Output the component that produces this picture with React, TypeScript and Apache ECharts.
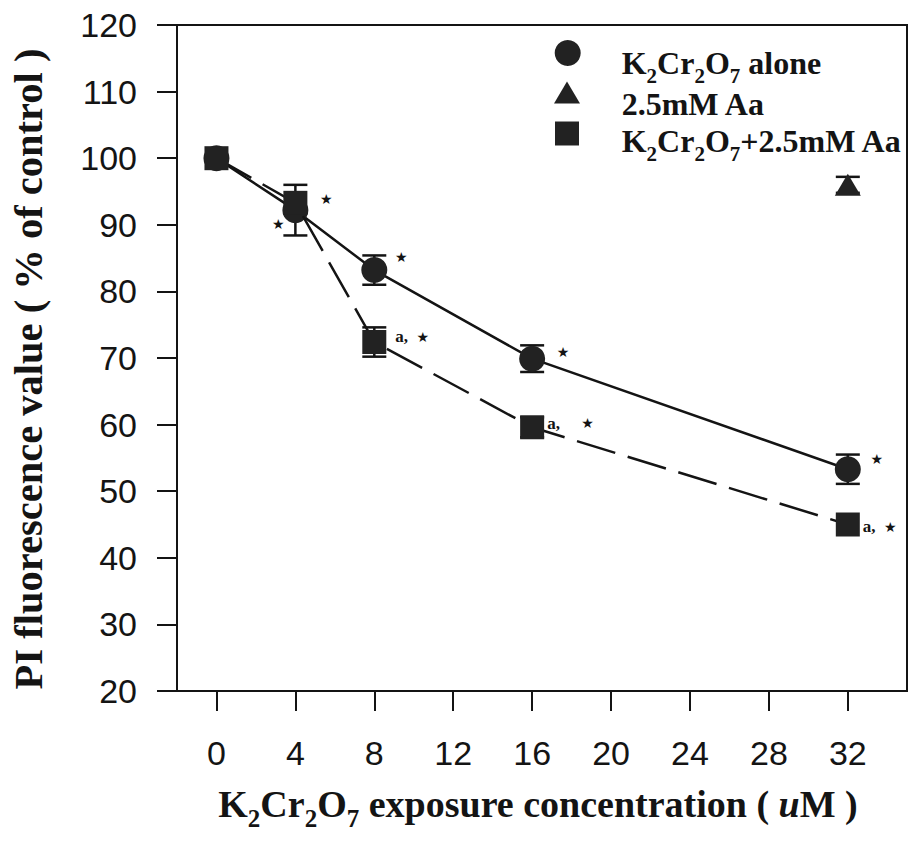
import React, { useEffect, useRef } from 'react';
import * as echarts from 'echarts';

// ---- data ----
const xTickValues = [0, 4, 8, 12, 16, 20, 24, 28, 32];
const yMin = 20;
const yMax = 120;
const yStep = 10;

const concentrations = [0, 4, 8, 16, 32];
const aloneValues = [100, 92.2, 83.2, 69.9, 53.3];
const aloneErrors = [0, 3.8, 2.2, 2.0, 2.2];
const aloneMarks = ['', '*', '*', '*', '*'];

const comboValues = [100, 93.3, 72.4, 59.6, 45.0];
const comboErrors = [0, 0, 2.2, 1.5, 0];
const comboMarks = ['', '*', 'a,*', 'a,*', 'a,*'];

const aaConc = [32];
const aaValues = [96];
const aaErrors = [1.2];

// ---- layout (not data) ----
const aloneLabelOffsets = [[0, 0], [-17, 14], [27, -13], [31, -7], [29, -10]];
const comboLabelPos = ['inside', 'inside', 'right', 'right', 'right'];
const comboLabelOffsets = [[0, 0], [31, -4], [9, -5.5], [3, -4], [3, 2]];
const comboGaps = ['', '', '  ', '     ', '  '];

const ink = '#141414';
const fillInk = '#222222';
const serif = '"Liberation Serif", "Times New Roman", serif';
const sans = '"Liberation Sans", Arial, sans-serif';

const legendNames: Record<string, string> = {
  alone: '{n|K}{s|2}{n|Cr}{s|2}{n|O}{s|7}{n| alone}',
  aa: '{m|2.5mM Aa}',
  combo: '{n|K}{s|2}{n|Cr}{s|2}{n|O}{s|7}{n|+2.5mM Aa}',
};

const legendRich = {
  n: { fontSize: 32, fontWeight: 'bold', fontFamily: serif, lineHeight: 47, color: ink },
  m: { fontSize: 32, fontWeight: 'bold', fontFamily: serif, lineHeight: 30, color: ink },
  s: { fontSize: 21, fontWeight: 'bold', fontFamily: serif, verticalAlign: 'bottom', color: ink },
};

const markRich = {
  a: { fontSize: 17, fontWeight: 'bold', fontFamily: serif, color: ink, lineHeight: 18 },
  s: { fontSize: 14, fontFamily: '"DejaVu Sans", sans-serif', color: ink, lineHeight: 18 },
};

function markText(m: string, gap: string) {
  if (m === '*') return '{s|★}';
  if (m === 'a,*') return '{a|a,' + gap + '}{s|★}';
  return '';
}

function errorSeries(name: string, xs: number[], ys: number[], es: number[]) {
  return {
    type: 'custom',
    name,
    z: 1,
    silent: true,
    encode: { x: 0, y: 1 },
    data: xs.map((x, i) => [x, ys[i], es[i]]).filter((d) => d[2] > 0),
    renderItem: (params: any, api: any) => {
      const x = api.value(0);
      const y = api.value(1);
      const e = api.value(2);
      const top = api.coord([x, y + e]);
      const bot = api.coord([x, y - e]);
      const hw = 12;
      const st = { stroke: ink, lineWidth: 2.5 };
      return {
        type: 'group',
        children: [
          { type: 'line', shape: { x1: top[0], y1: top[1], x2: bot[0], y2: bot[1] }, style: st },
          { type: 'line', shape: { x1: top[0] - hw, y1: top[1], x2: top[0] + hw, y2: top[1] }, style: st },
          { type: 'line', shape: { x1: bot[0] - hw, y1: bot[1], x2: bot[0] + hw, y2: bot[1] }, style: st },
        ],
      };
    },
  };
}

function makeLegend(name: string, icon: string, left: number, top: number, w: number, h: number, pad: number[]) {
  return {
    data: [{ name, icon }],
    orient: 'vertical',
    left,
    top,
    padding: 0,
    itemWidth: w,
    itemHeight: h,
    selectedMode: false,
    formatter: (n: string) => legendNames[n],
    itemStyle: { color: fillInk, borderWidth: 0, opacity: 1 },
    textStyle: { rich: legendRich, padding: pad, color: ink },
  };
}

export default function App() {
  const ref = useRef<HTMLDivElement>(null);

  useEffect(() => {
    if (!ref.current) return;
    const chart = echarts.init(ref.current, undefined, { renderer: 'svg' });

    const aloneData = concentrations.map((x, i) => ({
      value: [x, aloneValues[i]],
      label: aloneMarks[i]
        ? { show: true, position: 'inside', formatter: markText(aloneMarks[i], ''), offset: aloneLabelOffsets[i] }
        : { show: false },
    }));
    const comboData = concentrations.map((x, i) => ({
      value: [x, comboValues[i]],
      label: comboMarks[i]
        ? {
            show: true,
            position: comboLabelPos[i],
            distance: 0,
            formatter: markText(comboMarks[i], comboGaps[i]),
            offset: comboLabelOffsets[i],
          }
        : { show: false },
    }));

    const option: any = {
      animation: false,
      backgroundColor: '#ffffff',
      grid: {
        left: 177,
        right: 4,
        top: 25,
        bottom: 154,
        show: true,
        borderColor: ink,
        borderWidth: 2,
        backgroundColor: 'transparent',
      },
      xAxis: {
        type: 'value',
        min: -2,
        max: 35,
        axisLine: { show: true, onZero: false, lineStyle: { color: ink, width: 2 } },
        axisTick: { show: true, inside: false, length: 20, lineStyle: { color: ink, width: 2 }, customValues: xTickValues },
        axisLabel: { customValues: xTickValues, margin: 45, fontSize: 34, fontFamily: sans, color: ink },
        splitLine: { show: false },
      },
      yAxis: {
        type: 'value',
        min: yMin,
        max: yMax,
        interval: yStep,
        axisLine: { show: true, onZero: false, lineStyle: { color: ink, width: 2 } },
        axisTick: { show: true, inside: false, length: 20, lineStyle: { color: ink, width: 2 } },
        axisLabel: { margin: 40, fontSize: 34, fontFamily: sans, color: ink },
        splitLine: { show: false },
      },
      legend: [
        makeLegend('alone', 'circle', 554.7, 40, 26, 26, [19.4, 0, 0, 36]),
        makeLegend('aa', 'triangle', 554, 81.4, 26, 22, [23.2, 0, 0, 36.7]),
        makeLegend('combo', 'rect', 555, 121.5, 24, 24, [14, 0, 0, 37.7]),
      ],
      graphic: [
        {
          type: 'text',
          x: 28.5,
          y: 369,
          rotation: Math.PI / 2,
          style: {
            text: 'PI fluorescence value ( % of control )',
            fontSize: 40.5,
            fontWeight: 'bold',
            fontFamily: serif,
            fill: ink,
            align: 'center',
            verticalAlign: 'middle',
          },
        },
        {
          type: 'text',
          x: 538,
          y: 804,
          style: {
            text: '{n|K}{s|2}{n|Cr}{s|2}{n|O}{s|7}{n| exposure concentration ( }{i|u}{n|M )}',
            align: 'center',
            verticalAlign: 'middle',
            fill: ink,
            rich: {
              n: { fontSize: 38, fontWeight: 'bold', fontFamily: serif, lineHeight: 53, fill: ink },
              s: { fontSize: 25, fontWeight: 'bold', fontFamily: serif, verticalAlign: 'bottom', fill: ink },
              i: { fontSize: 38, fontWeight: 'bold', fontStyle: 'italic', fontFamily: serif, lineHeight: 53, fill: ink },
            },
          },
        },
      ],
      series: [
        errorSeries('alone-err', concentrations, aloneValues, aloneErrors),
        errorSeries('combo-err', concentrations, comboValues, comboErrors),
        errorSeries('aa-err', aaConc, aaValues, aaErrors),
        {
          type: 'line',
          name: 'alone',
          z: 3,
          data: aloneData,
          symbol: 'circle',
          symbolSize: 26,
          itemStyle: { color: fillInk, opacity: 1 },
          lineStyle: { color: ink, width: 2.5, type: 'solid' },
          label: { show: false, position: 'inside', rich: markRich, color: ink },
        },
        {
          type: 'line',
          name: 'combo',
          z: 4,
          data: comboData,
          symbol: 'rect',
          symbolSize: 24,
          itemStyle: { color: fillInk, opacity: 1 },
          lineStyle: { color: ink, width: 2.5, type: [40, 13] },
          label: { show: false, position: 'inside', rich: markRich, color: ink },
        },
        {
          type: 'scatter',
          name: 'aa',
          z: 3,
          data: aaConc.map((x, i) => [x, aaValues[i]]),
          symbol: 'triangle',
          symbolSize: [26, 22],
          itemStyle: { color: fillInk, opacity: 1 },
        },
      ],
    };

    chart.setOption(option);
    return () => chart.dispose();
  }, []);

  return (
    <div
      ref={ref}
      style={{ position: 'absolute', left: 0, top: 0, width: 911, height: 845, background: '#fff' }}
    />
  );
}
